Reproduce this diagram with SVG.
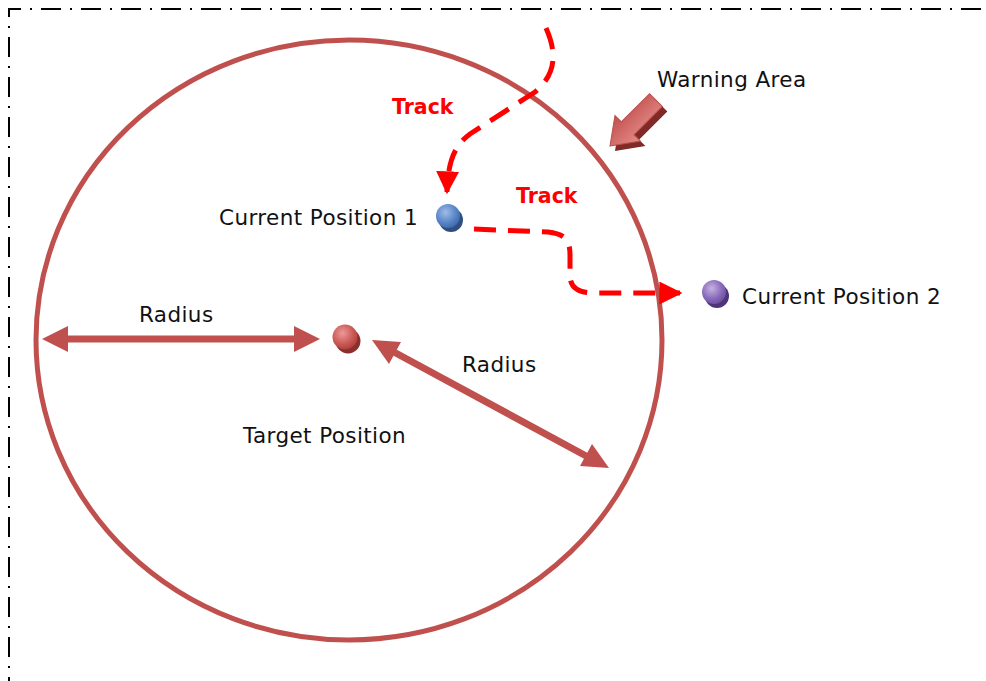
<svg xmlns="http://www.w3.org/2000/svg" width="986" height="681" viewBox="0 0 986 681">
<style>
.lbl{font-family:"DejaVu Sans","Liberation Sans",sans-serif;font-size:21.5px;letter-spacing:0.4px;fill:#111}
.trk{font-family:"DejaVu Sans","Liberation Sans",sans-serif;font-size:20.5px;font-weight:bold;fill:#ff0000}
.dash{fill:none;stroke:#ff0000;stroke-width:5;stroke-dasharray:22 12}
.rad{fill:none;stroke:#c0504d;stroke-width:7}
</style>
<defs>
<radialGradient id="gBlue" cx="0.4" cy="0.35" r="0.7"><stop offset="0" stop-color="#9fbde6"/><stop offset="0.6" stop-color="#5a87c8"/><stop offset="1" stop-color="#3d66a6"/></radialGradient>
<radialGradient id="gPurple" cx="0.4" cy="0.35" r="0.7"><stop offset="0" stop-color="#c7b2e0"/><stop offset="0.6" stop-color="#8a6cbc"/><stop offset="1" stop-color="#6a4c9c"/></radialGradient>
<radialGradient id="gRed" cx="0.4" cy="0.35" r="0.7"><stop offset="0" stop-color="#ec9a98"/><stop offset="0.6" stop-color="#cc5a57"/><stop offset="1" stop-color="#a83e3b"/></radialGradient>
<linearGradient id="gWarn" x1="0" y1="0" x2="0" y2="1"><stop offset="0" stop-color="#e58b89"/><stop offset="1" stop-color="#c0504d"/></linearGradient>
<marker id="ah" viewBox="0 0 10 10" refX="9" refY="5" markerWidth="4.6" markerHeight="4.6" orient="auto" markerUnits="strokeWidth"><path d="M0,0 L10,5 L0,10 z" fill="#ff0000"/></marker>
<path id="warnShape" d="M0,0 L-25,-18 L-25,-9 L-65,-9 L-65,9 L-25,9 L-25,18 Z"/>
</defs>
<path d="M9,681 L9,9 L986,9" fill="none" stroke="#000" stroke-width="2" stroke-dasharray="20 9 2 9" stroke-dashoffset="16"/>
<g id="warning-circle"><ellipse cx="349" cy="340" rx="313" ry="300" fill="none" stroke="#c0504d" stroke-width="5"/></g>
<g id="connectors">
<g id="radius-horizontal">
<line x1="66" y1="339" x2="296" y2="339" class="rad"/>
<polygon points="42,339 68,326 68,352" fill="#c0504d"/>
<polygon points="320,339 294,326 294,352" fill="#c0504d"/>
</g>
<g id="radius-diagonal">
<line x1="392" y1="351" x2="588" y2="457" class="rad"/>
<polygon points="372,340 401,342 389,364" fill="#c0504d"/>
<polygon points="609,468 580,466 592,444" fill="#c0504d"/>
</g>
<path id="track1" class="dash" d="M546,28 C558,55 555,75 535,92 L470,134 C455,145 448,160 447,192" marker-end="url(#ah)"/>
<path id="track2" class="dash" d="M474,229 L548,232 C565,234 570,240 570,255 L570,275 C570,288 578,293 595,293 L680,293" marker-end="url(#ah)"/>
</g>
<g id="warning-arrow">
<use href="#warnShape" transform="translate(615,151) rotate(135)" fill="#7f2a27"/>
<use href="#warnShape" transform="translate(610,146) rotate(135)" fill="url(#gWarn)" stroke="#b9504d" stroke-width="1"/>
</g>
<g id="current-position-1">
<circle cx="451" cy="220" r="12" fill="#2f4f80"/>
<circle cx="448" cy="216" r="12" fill="url(#gBlue)"/>
</g>
<g id="current-position-2">
<circle cx="717" cy="296" r="12" fill="#4e3577"/>
<circle cx="714" cy="292" r="12" fill="url(#gPurple)"/>
</g>
<g id="target-position">
<circle cx="348" cy="341" r="12.5" fill="#8a2f2c"/>
<circle cx="345" cy="337" r="12.5" fill="url(#gRed)"/>
</g>
<g id="labels">
<text class="lbl" x="657" y="87">Warning Area</text>
<text class="trk" x="392" y="114">Track</text>
<text class="trk" x="516" y="203">Track</text>
<text class="lbl" x="219" y="225">Current Position 1</text>
<text class="lbl" x="742" y="304">Current Position 2</text>
<text class="lbl" x="139" y="322">Radius</text>
<text class="lbl" x="462" y="372">Radius</text>
<text class="lbl" x="243" y="443">Target Position</text>
</g>
</svg>
